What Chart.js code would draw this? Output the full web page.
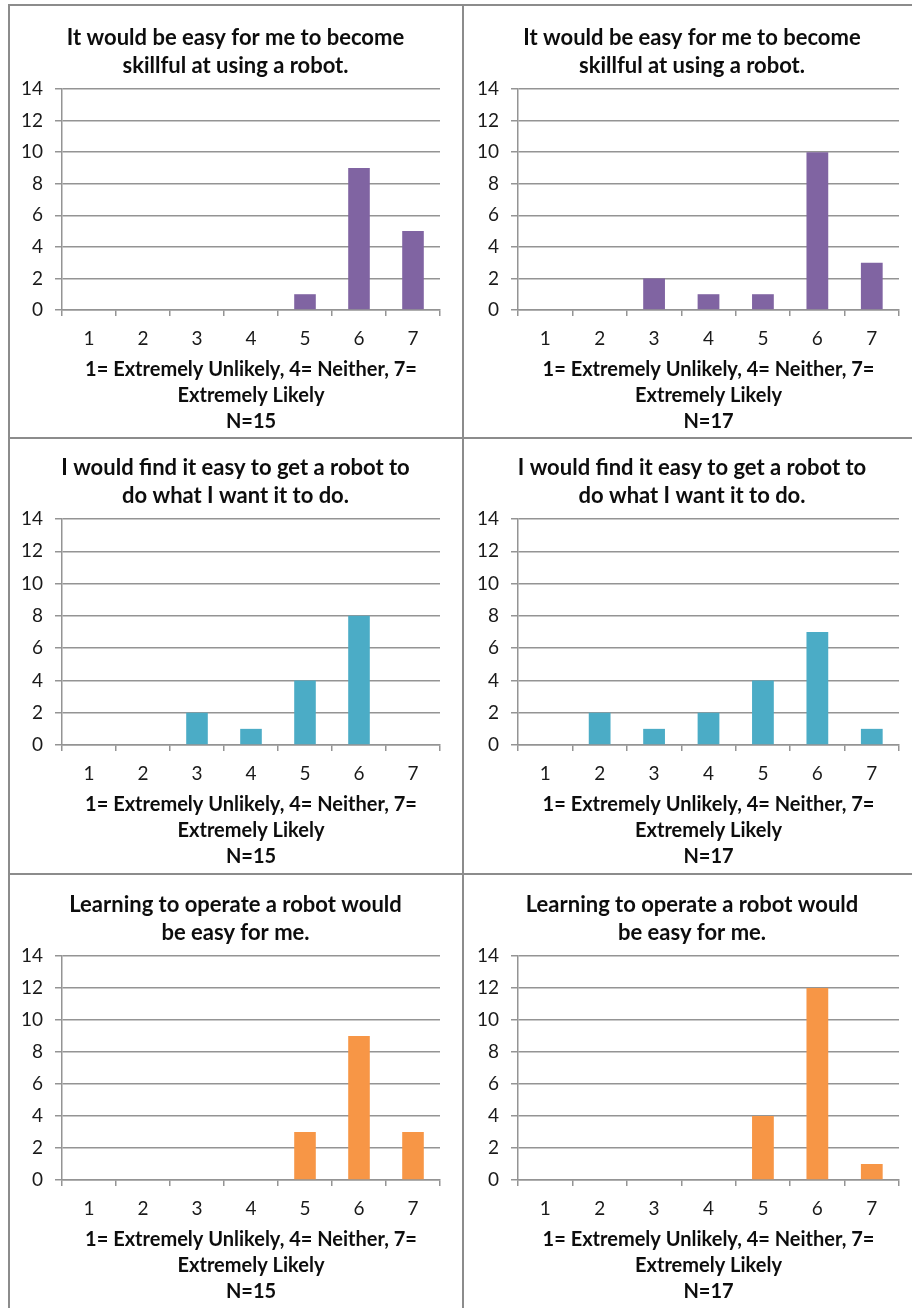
<!DOCTYPE html>
<html>
<head>
<meta charset="utf-8">
<script src="https://cdn.jsdelivr.net/npm/chart.js@4.4.1/dist/chart.umd.min.js"></script>
<style>
  html, body { margin: 0; padding: 0; background: #fff; overflow: hidden; }
  #board { position: relative; width: 912px; height: 1308px; overflow: hidden; background: #fff; }
  .rule { position: absolute; background: #8c8c8c; }
  canvas { position: absolute; }
</style>
</head>
<body>
<div id="board">
  <div class="rule" style="left:8px; top:4px; width:904px; height:2px;"></div>
  <div class="rule" style="left:8px; top:437px; width:904px; height:2px;"></div>
  <div class="rule" style="left:8px; top:873px; width:904px; height:2px;"></div>
  <div class="rule" style="left:8px; top:4px; width:2px; height:1304px;"></div>
  <div class="rule" style="left:462px; top:4px; width:2px; height:1304px;"></div>
</div>
<script>
// Response scale points
const categories = ['1', '2', '3', '4', '5', '6', '7'];

// Counts of answers per scale point
const skillfulN15 = [0, 0, 0, 0, 1, 9, 5];
const skillfulN17 = [0, 0, 2, 1, 1, 10, 3];
const doWhatIWantN15 = [0, 0, 2, 1, 4, 8, 0];
const doWhatIWantN17 = [0, 2, 1, 2, 4, 7, 1];
const learningN15 = [0, 0, 0, 0, 3, 9, 3];
const learningN17 = [0, 0, 0, 0, 4, 12, 1];

// Question wording
const titleSkillful = ['It would be easy for me to become', 'skillful at using a robot.'];
const titleDoWhatIWant = ['I would find it easy to get a robot to', 'do what I want it to do.'];
const titleLearning = ['Learning to operate a robot would', 'be easy for me.'];
const scaleCaption = ['1= Extremely Unlikely, 4= Neither, 7=', 'Extremely Likely'];
const sampleLabels = ['N=15', 'N=17'];

// Value axis
const yMin = 0;
const yMax = 14;
const yStep = 2;

// Series colours
const purple = '#8064A2';
const teal = '#4BACC6';
const orange = '#F79646';

Chart.defaults.font.family = 'Lato, "Open Sans", sans-serif';
Chart.defaults.color = '#1a1a1a';

const gridGray = '#949494';

// Column / row geometry of the plotting areas
const columns = [
  { plotLeft: 62, plotRight: 440, canvasLeft: 10, canvasWidth: 451 },
  { plotLeft: 518, plotRight: 899, canvasLeft: 465, canvasWidth: 454 }
];
const rows = [
  { plotTop: 89, plotBottom: 310 },
  { plotTop: 519, plotBottom: 745 },
  { plotTop: 956, plotBottom: 1180 }
];

const panels = [
  { row: 0, col: 0, title: titleSkillful, data: skillfulN15, n: sampleLabels[0], color: purple },
  { row: 0, col: 1, title: titleSkillful, data: skillfulN17, n: sampleLabels[1], color: purple },
  { row: 1, col: 0, title: titleDoWhatIWant, data: doWhatIWantN15, n: sampleLabels[0], color: teal },
  { row: 1, col: 1, title: titleDoWhatIWant, data: doWhatIWantN17, n: sampleLabels[1], color: teal },
  { row: 2, col: 0, title: titleLearning, data: learningN15, n: sampleLabels[0], color: orange },
  { row: 2, col: 1, title: titleLearning, data: learningN17, n: sampleLabels[1], color: orange }
];

const TOP_BAND = 80;      // title block above the plot
const BOTTOM_BAND = 125;  // tick labels + caption below the plot

const board = document.getElementById('board');

panels.forEach((p) => {
  const c = columns[p.col];
  const r = rows[p.row];
  const plotH = r.plotBottom - r.plotTop;
  const canvas = document.createElement('canvas');
  const w = c.canvasWidth;
  const h = TOP_BAND + plotH + BOTTOM_BAND;
  canvas.width = w;
  canvas.height = h;
  canvas.style.left = c.canvasLeft + 'px';
  canvas.style.top = (r.plotTop - TOP_BAND) + 'px';
  canvas.style.width = w + 'px';
  canvas.style.height = h + 'px';
  board.appendChild(canvas);

  const leftWidth = c.plotLeft - c.canvasLeft;
  const rightWidth = c.canvasLeft + w - c.plotRight;

  new Chart(canvas, {
    type: 'bar',
    data: {
      labels: categories,
      datasets: [{
        data: p.data,
        backgroundColor: p.color,
        borderWidth: 0,
        barPercentage: 0.4,
        categoryPercentage: 1.0
      }]
    },
    options: {
      responsive: false,
      animation: false,
      devicePixelRatio: 1,
      layout: { padding: 0 },
      plugins: {
        legend: { display: false },
        tooltip: { enabled: false },
        title: {
          display: true,
          text: p.title,
          color: '#0d0d0d',
          font: { size: 22, weight: 'bold', lineHeight: 28 / 22 },
          padding: { top: 15, bottom: 9 }
        }
      },
      scales: {
        x: {
          offset: true,
          grid: {
            display: true,
            offset: true,
            drawOnChartArea: false,
            drawTicks: true,
            tickLength: 6,
            color: gridGray,
            lineWidth: 1.5
          },
          border: { display: true, color: gridGray, width: 1.5 },
          ticks: {
            color: '#1a1a1a',
            font: { size: 19, lineHeight: 1.2 },
            padding: 11,
            maxRotation: 0
          },
          title: {
            display: true,
            text: scaleCaption.concat([p.n]),
            color: '#0d0d0d',
            font: { size: 20, weight: 'bold', lineHeight: 26 / 20 },
            padding: { top: 0, bottom: 0 }
          },
          afterFit: (s) => { s.height = BOTTOM_BAND; }
        },
        y: {
          min: yMin,
          max: yMax,
          ticks: {
            stepSize: yStep,
            color: '#1a1a1a',
            font: { size: 19 },
            padding: 12
          },
          grid: {
            color: gridGray,
            lineWidth: 1.5,
            drawTicks: true,
            tickLength: 7
          },
          border: { display: true, color: gridGray, width: 1.5 },
          afterFit: (s) => { s.width = leftWidth; }
        },
        gutter: {
          type: 'linear',
          position: 'right',
          display: true,
          grid: { display: false, drawTicks: false },
          border: { display: false },
          ticks: { display: false },
          afterFit: (s) => { s.width = rightWidth; }
        }
      }
    }
  });
});
</script>
</body>
</html>
